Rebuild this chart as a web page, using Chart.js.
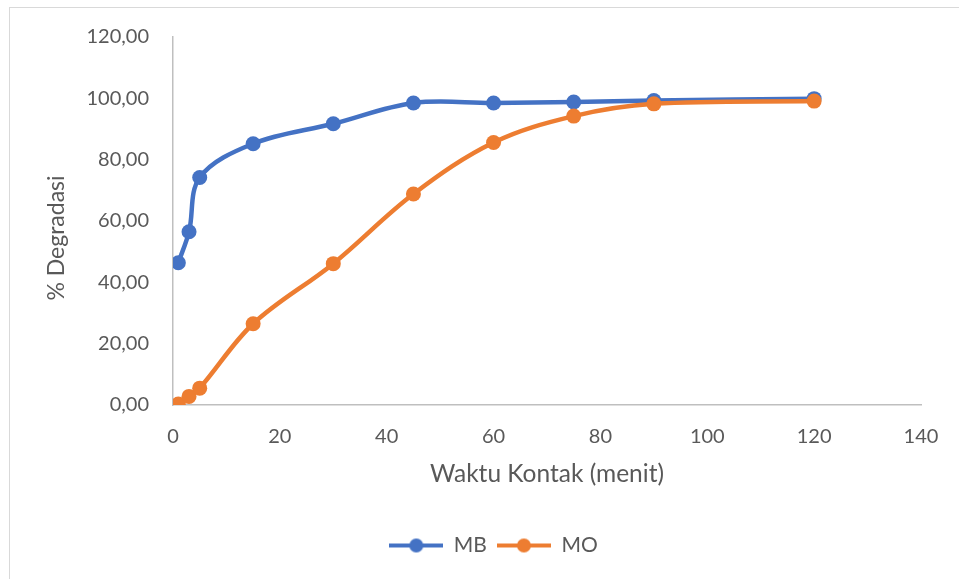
<!DOCTYPE html>
<html>
<head>
<meta charset="utf-8">
<script src="https://cdn.jsdelivr.net/npm/chart.js@4.4.0/dist/chart.umd.min.js"></script>
<style>
  html, body { margin: 0; padding: 0; background: #fff; }
  #wrap { position: relative; width: 959px; height: 579px; overflow: hidden; }
  #frame { position: absolute; left: 9px; top: 7px; right: -10px; bottom: -10px; border: 1.5px solid #d9d9d9; }
  #chart { position: absolute; left: 0; top: 0; }
</style>
</head>
<body>
<div id="wrap">
  <div id="frame"></div>
  <canvas id="chart" width="959" height="579"></canvas>
</div>
<script>
// contact time (minutes) and % degradation for each dye
const waktu = [1, 3, 5, 15, 30, 45, 60, 75, 90, 120];
const degradasiMB = [46.4, 56.5, 74.2, 85.2, 91.7, 98.5, 98.5, 98.8, 99.3, 99.9];
const degradasiMO = [0.3, 2.8, 5.5, 26.5, 46.1, 68.8, 85.6, 94.2, 98.2, 99.1];
const xTicks = [0, 20, 40, 60, 80, 100, 120, 140];
const yTicks = [0, 20, 40, 60, 80, 100, 120];

const BLUE = '#4472C4';
const ORANGE = '#ED7D31';
const TEXT = '#595959';
const AXIS = '#bfbfbf';

Chart.defaults.font.family = 'Lato, sans-serif';
Chart.defaults.color = TEXT;

function toPoints(xs, ys) {
    return xs.map((x, i) => ({ x: x, y: ys[i] }))
}

// line-with-dot swatch for the legend
function legendMarker(color) {
    const c = document.createElement('canvas');
    c.width = 54;
    c.height = 16;
    const g = c.getContext('2d');
    g.strokeStyle = color;
    g.lineWidth = 4;
    g.beginPath();
    g.moveTo(0, 8);
    g.lineTo(54, 8);
    g.stroke();
    g.fillStyle = color;
    g.beginPath();
    g.arc(27, 8, 7, 0, Math.PI * 2);
    g.fill();
    return c;
}

const markers = [legendMarker(BLUE), legendMarker(ORANGE)];

// y title sits a bit below the plot centre, so draw it by hand
const yTitle = {
    id: 'yTitle',
    afterDraw(chart) {
        const ctx = chart.ctx;
        ctx.save();
        ctx.translate(57, 238);
        ctx.rotate(-Math.PI / 2);
        ctx.font = '23px Lato, sans-serif';
        ctx.fillStyle = TEXT;
        ctx.textAlign = 'center';
        ctx.textBaseline = 'middle';
        ctx.fillText('% Degradasi', 0, 0);
        ctx.restore();
    }
};

// nudge the legend right under the plot
const legendShift = {
    id: 'legendShift',
    afterLayout(chart) {
        chart.legend.left += 33;
        chart.legend.right += 33;
    }
};

new Chart(document.getElementById('chart').getContext('2d'), {
    type: 'line',
    data: {
        datasets: [
            {
                label: 'MB',
                data: toPoints(waktu, degradasiMB),
                borderColor: BLUE,
                backgroundColor: BLUE,
                order: 1,
            },
            {
                label: 'MO',
                data: toPoints(waktu, degradasiMO),
                borderColor: ORANGE,
                backgroundColor: ORANGE,
                order: 0,
            }
        ]
    },
    options: {
        responsive: false,
        animation: false,
        elements: {
            line: { borderWidth: 4.5, tension: 0.35, fill: false },
            point: { radius: 7.5, hoverRadius: 7.5, borderWidth: 0 }
        },
        layout: { padding: { top: 37, right: 38, left: 0, bottom: 13 } },
        scales: {
            x: {
                type: 'linear',
                min: 0,
                max: 140,
                afterBuildTicks: s => { s.ticks = xTicks.map(v => ({ value: v })) },
                afterFit: s => { s.height = 120 },
                grid: { display: false, drawTicks: false },
                border: { display: true, color: AXIS, width: 1.5 },
                ticks: { padding: 20, font: { size: 20 }, color: TEXT },
                title: {
                    display: true,
                    text: 'Waktu Kontak (menit)',
                    font: { size: 24.5 },
                    color: TEXT,
                    padding: { top: 0, bottom: 36 }
                }
            },
            y: {
                type: 'linear',
                min: 0,
                max: 120,
                afterBuildTicks: s => { s.ticks = yTicks.map(v => ({ value: v })) },
                afterFit: s => { s.width = 173 },
                grid: { display: false, drawTicks: false },
                border: { display: true, color: AXIS, width: 1.5 },
                ticks: {
                    padding: 24,
                    font: { size: 20 },
                    color: TEXT,
                    callback: v => v.toFixed(2).replace('.', ',')
                }
            }
        },
        plugins: {
            legend: {
                position: 'bottom',
                labels: {
                    usePointStyle: true,
                    pointStyleWidth: 54,
                    boxHeight: 16,
                    padding: 10,
                    font: { size: 21 },
                    color: TEXT,
                    sort: (a, b) => a.datasetIndex - b.datasetIndex,
                    generateLabels: chart => {
                        const items = Chart.defaults.plugins.legend.labels.generateLabels(chart);
                        items.forEach(it => { it.pointStyle = markers[it.datasetIndex] });
                        return items;
                    }
                }
            },
            tooltip: { enabled: false }
        }
    },
    plugins: [yTitle, legendShift]
})
</script>
</body>
</html>
